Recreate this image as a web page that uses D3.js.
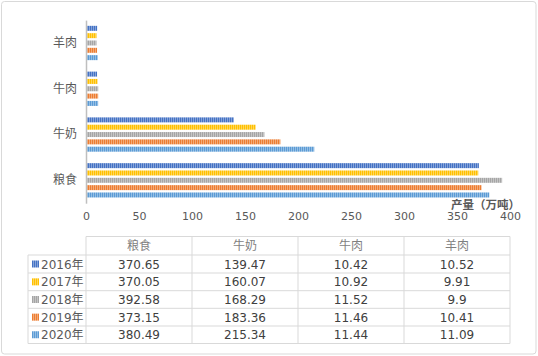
<!DOCTYPE html>
<html><head><meta charset="utf-8">
<script src="https://cdn.jsdelivr.net/npm/d3@7/dist/d3.min.js"></script>
<style>body{margin:0;background:#fff}svg{display:block}</style>
</head><body>
<svg id="chart" width="538" height="356"></svg>
<script>
const categories = ["粮食", "牛奶", "牛肉", "羊肉"];
const years = ["2016年", "2017年", "2018年", "2019年", "2020年"];
const v2016 = [370.65, 139.47, 10.42, 10.52];
const v2017 = [370.05, 160.07, 10.92, 9.91];
const v2018 = [392.58, 168.29, 11.52, 9.9];
const v2019 = [373.15, 183.36, 11.46, 10.41];
const v2020 = [380.49, 215.34, 11.44, 11.09];
const xTicks = [0, 50, 100, 150, 200, 250, 300, 350, 400];
const colors = ["#4472C4", "#FFC000", "#A5A5A5", "#ED7D31", "#5B9BD5"];
const axisTitle = "产量（万吨）";

const seriesVals = [v2016, v2017, v2018, v2019, v2020];
const svg = d3.select("#chart");
const FONT = "'DejaVu Sans', 'Noto Sans CJK SC', sans-serif";
const CJK = "'Noto Sans CJK SC', sans-serif";

// outer border
svg.append("rect").attr("x", 1.5).attr("y", 1.5).attr("width", 534.5).attr("height", 352.5)
  .attr("rx", 3).attr("fill", "#fff").attr("stroke", "#d9d9d9");

// stripe patterns
const defs = svg.append("defs");
colors.forEach((c, i) => {
  const p = defs.append("pattern").attr("id", "pat" + i).attr("patternUnits", "userSpaceOnUse")
    .attr("width", 2).attr("height", 4);
  p.append("rect").attr("width", 2).attr("height", 4).attr("fill", d3.interpolateRgb(c, "#fff")(0.35));
  p.append("rect").attr("width", 1).attr("height", 4).attr("fill", c);
});

const x = d3.scaleLinear().domain([0, 400]).range([86, 510]);
const y = d3.scaleBand().domain(categories.slice().reverse()).range([20.1, 203.2]);
const yInner = d3.scaleBand().domain(years).range([0, 34.3]).paddingInner(0.32);

// bars
categories.forEach((cat, ci) => {
  const off = y(cat) + (y.bandwidth() - 34.3) / 2;
  years.forEach((yr, si) => {
    svg.append("rect")
      .attr("x", x(0))
      .attr("y", off + yInner(yr))
      .attr("width", x(seriesVals[si][ci]) - x(0))
      .attr("height", yInner.bandwidth())
      .attr("fill", `url(#pat${si})`);
  });
});

// y axis
const yAxis = svg.append("g").attr("transform", `translate(${x(0)},0)`)
  .call(d3.axisLeft(y).tickSize(0).tickPadding(9));
yAxis.select(".domain").attr("stroke", "#bfbfbf").attr("stroke-width", 1.5);
yAxis.selectAll("text").attr("font-family", CJK).attr("font-size", 12).attr("fill", "#595959");

// x axis labels
const xAxis = svg.append("g").attr("transform", `translate(0,203)`)
  .call(d3.axisBottom(x).tickValues(xTicks).tickSize(0).tickPadding(9));
xAxis.select(".domain").remove();
xAxis.selectAll("text").attr("font-family", FONT).attr("font-size", 11).attr("fill", "#595959");

// axis title
svg.append("text").attr("x", 520).attr("y", 208.5).attr("text-anchor", "end")
  .attr("font-family", CJK).attr("font-size", 11.5).attr("font-weight", "bold").attr("fill", "#595959")
  .text(axisTitle);

// data table
const colX = d3.scaleBand().domain(categories).range([86, 510]);
const rowTops = [236.5, 255, 273, 290.7, 308.3, 326];
const tableBottom = 343.5;
const g = svg.append("g").attr("stroke", "#d9d9d9").attr("stroke-width", 1).attr("fill", "none");
g.append("line").attr("x1", 86).attr("x2", 510).attr("y1", rowTops[0]).attr("y2", rowTops[0]);
rowTops.slice(1).concat([tableBottom]).forEach(yy => {
  g.append("line").attr("x1", 28).attr("x2", 510).attr("y1", yy).attr("y2", yy);
});
g.append("line").attr("x1", 28).attr("x2", 28).attr("y1", rowTops[1]).attr("y2", tableBottom);
categories.forEach(c => {
  g.append("line").attr("x1", colX(c)).attr("x2", colX(c)).attr("y1", rowTops[0]).attr("y2", tableBottom);
});
g.append("line").attr("x1", 510).attr("x2", 510).attr("y1", rowTops[0]).attr("y2", tableBottom);

categories.forEach(c => {
  svg.append("text").attr("x", colX(c) + colX.bandwidth() / 2).attr("y", (rowTops[0] + rowTops[1]) / 2 + 4.5)
    .attr("text-anchor", "middle").attr("font-family", CJK).attr("font-size", 12).attr("fill", "#7f7f7f").text(c);
});
years.forEach((yr, si) => {
  const cy = (rowTops[si + 1] + (si + 2 < rowTops.length ? rowTops[si + 2] : tableBottom)) / 2;
  svg.append("rect").attr("x", 32).attr("y", cy - 3.5).attr("width", 7).attr("height", 7)
    .attr("fill", `url(#pat${si})`);
  svg.append("text").attr("x", 41).attr("y", cy + 4.5).attr("font-family", FONT).attr("font-size", 12)
    .attr("fill", "#595959").text(yr);
  categories.forEach((c, ci) => {
    svg.append("text").attr("x", colX(c) + colX.bandwidth() / 2).attr("y", cy + 4.5)
      .attr("text-anchor", "middle").attr("font-family", FONT).attr("font-size", 12)
      .attr("fill", "#404040").text(seriesVals[si][ci]);
  });
});
</script>
</body></html>
